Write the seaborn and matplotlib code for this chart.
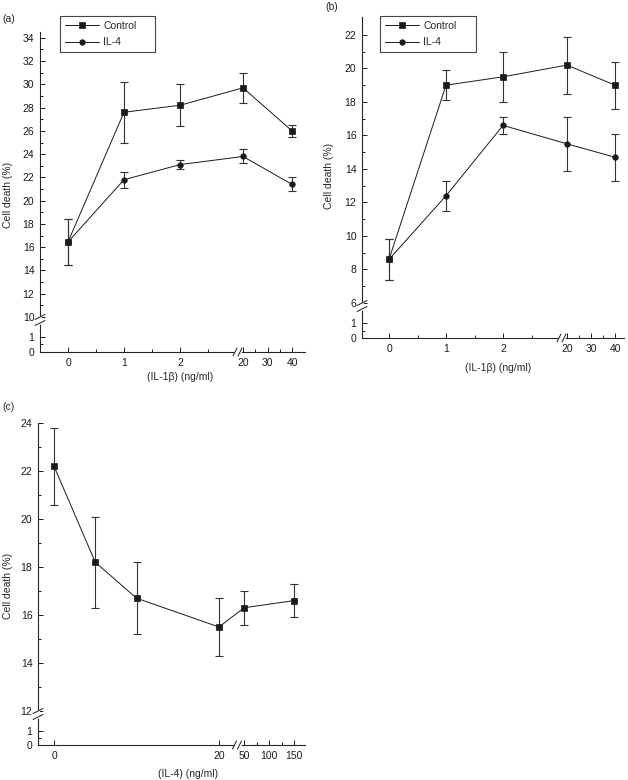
import matplotlib
matplotlib.use('Agg')
import matplotlib.pyplot as plt
import numpy as np
import seaborn as sns

# (a) cell death vs IL-1beta, with and without IL-4
dose_a = [0, 1, 2, 20, 40]
control_a = [16.45, 27.6, 28.2, 29.7, 26.0]
control_a_err = [2.0, 2.6, 1.8, 1.3, 0.5]
il4_a = [16.45, 21.8, 23.1, 23.8, 21.4]
il4_a_err = [2.0, 0.7, 0.4, 0.6, 0.6]

# (b) second cell type, same design
dose_b = [0, 1, 2, 20, 40]
control_b = [8.6, 19.0, 19.5, 20.2, 19.0]
control_b_err = [1.2, 0.9, 1.5, 1.7, 1.4]
il4_b = [8.6, 12.4, 16.6, 15.5, 14.7]
il4_b_err = [1.2, 0.9, 0.5, 1.6, 1.4]

# (c) cell death vs IL-4 dose
dose_c = [0, 5, 10, 20, 50, 150]
death_c = [22.2, 18.2, 16.7, 15.5, 16.3, 16.6]
death_c_err = [1.6, 1.9, 1.5, 1.2, 0.7, 0.7]

xticks_ab = [0, 1, 2, 20, 30, 40]
xminor_ab = [0.5, 1.5, 2.5, 25, 35]
xticks_c = [0, 20, 50, 100, 150]
xminor_c = [75, 125]
yticks_a = [0, 1] + list(range(10, 35, 2))
yticks_b = [0, 1] + list(range(6, 23, 2))
yticks_c = [0, 1] + list(range(12, 25, 2))

W, H = 628, 780
FS = 7.5

sns.set_theme(style='ticks')
plt.rcParams['font.family'] = ['Liberation Sans', 'DejaVu Sans']
plt.rcParams['axes.linewidth'] = 0.8


def pwl(src, dst):
    """Piecewise linear map src -> dst, extrapolated at both ends."""
    src = np.asarray(src, float)
    dst = np.asarray(dst, float)

    def f(v):
        v = np.asarray(v, float)
        out = np.interp(v, src, dst)
        lo = dst[0] + (v - src[0]) * (dst[1] - dst[0]) / (src[1] - src[0])
        hi = dst[-1] + (v - src[-1]) * (dst[-1] - dst[-2]) / (src[-1] - src[-2])
        return np.where(v < src[0], lo, np.where(v > src[-1], hi, out))
    return f


def px_axes(fig, left, top, right, bottom):
    return fig.add_axes([left / W, 1 - bottom / H, (right - left) / W, (bottom - top) / H])


def setup_axes(ax, xmap, ymap, xticks, xminor, yticks, yminor):
    # scaled coordinates are pixels from the axes origin, so the breaks are
    # just flat stretches of the mapping
    ax.set_xscale('function', functions=(pwl(*xmap), pwl(xmap[1], xmap[0])))
    ax.set_yscale('function', functions=(pwl(*ymap), pwl(ymap[1], ymap[0])))
    ax.set_xlim(xmap[0][0], xmap[0][-1])
    ax.set_ylim(ymap[0][0], ymap[0][-1])
    ax.set_xticks(xticks, [str(t) for t in xticks])
    ax.set_xticks(xminor, minor=True)
    ax.set_yticks(yticks, [str(t) for t in yticks])
    ax.set_yticks(yminor, minor=True)
    ax.tick_params(which='both', direction='in', width=0.7, colors='k',
                   labelsize=FS, pad=4)
    ax.tick_params(which='major', length=3.5)
    ax.tick_params(which='minor', length=2)
    sns.despine(ax=ax)

    # axis breaks: two slashes with a gap in the spine
    xw, yh = xmap[1][-1], ymap[1][-1]
    xs = pwl(*xmap)(xmap[0][1]) - 1
    ys = pwl(*ymap)(ymap[0][2])
    kw = dict(transform=ax.transAxes, clip_on=False)
    ax.plot([xs / xw, (xs + 5) / xw], [0, 0], color='white', lw=2, zorder=4, **kw)
    ax.plot([0, 0], [(ys - 6) / yh, ys / yh], color='white', lw=2, zorder=4, **kw)
    for p in (xs, xs + 5):
        ax.plot([(p - 2) / xw, (p + 2) / xw], [-4 / yh, 4 / yh],
                color='k', lw=0.7, zorder=5, **kw)
    for p in (ys, ys - 6):
        ax.plot([-5 / xw, 5 / xw], [(p - 2.5) / yh, (p + 2.5) / yh],
                color='k', lw=0.7, zorder=5, **kw)


def series(ax, x, y, err, marker, label=None):
    ax.errorbar(x, y, yerr=err, fmt='none', ecolor='#333333', elinewidth=0.8,
                capsize=2.8, capthick=0.8, zorder=2)
    sns.lineplot(x=x, y=y, ax=ax, color='k', linewidth=0.7, marker=marker,
                 markersize=4, markeredgecolor='k', markeredgewidth=0.5,
                 errorbar=None, label=label, legend=False, zorder=3)


def legend(ax, anchor):
    handles, labels = ax.get_legend_handles_labels()
    order = [labels.index('Control'), labels.index('IL-4')]
    leg = ax.legend([handles[i] for i in order], [labels[i] for i in order],
                    loc='upper left', bbox_to_anchor=anchor, mode='expand',
                    borderaxespad=0, fontsize=FS, frameon=True, fancybox=False,
                    framealpha=1, edgecolor='#444444', handlelength=3.3,
                    handletextpad=0.4, borderpad=0.45, labelspacing=0.65)
    leg.get_frame().set_linewidth(0.8)


fig = plt.figure(figsize=(W / 100, H / 100), dpi=100)

# ---- (a)
ax = px_axes(fig, 40, 32, 305, 352)
setup_axes(ax, ([-0.5, 3.0, 20, 45.3], [0, 196, 203, 265]),
           ([0, 1, 10, 34.5], [0, 15, 35, 320]),
           xticks_ab, xminor_ab, yticks_a, [0.5] + list(range(11, 34, 2)))
series(ax, dose_a, il4_a, il4_a_err, 'o', 'IL-4')
series(ax, dose_a, control_a, control_a_err, 's', 'Control')
legend(ax, (20 / 265, 0, 95 / 265, 336 / 320))
ax.set_xlabel('(IL-1β) (ng/ml)', fontsize=FS)
ax.set_ylabel('Cell death (%)', fontsize=FS)
ax.xaxis.set_label_coords(140 / 265, -20 / 320)
ax.yaxis.set_label_coords(-27 / 265, 0.49)
fig.text(2 / W, 1 - 19 / H, '(a)', fontsize=FS, va='center')

# ---- (b)
ax = px_axes(fig, 362, 17, 624, 338)
setup_axes(ax, ([-0.474, 3.0, 20, 43.75], [0, 198, 205, 262]),
           ([0, 1, 6, 23.07], [0, 15, 35, 321]),
           xticks_ab, xminor_ab, yticks_b, [0.5] + list(range(7, 23, 2)))
series(ax, dose_b, il4_b, il4_b_err, 'o', 'IL-4')
series(ax, dose_b, control_b, control_b_err, 's', 'Control')
legend(ax, (18 / 262, 0, 96 / 262, 322 / 321))
ax.set_xlabel('(IL-1β) (ng/ml)', fontsize=FS)
ax.set_ylabel('Cell death (%)', fontsize=FS)
ax.xaxis.set_label_coords(136 / 262, -25 / 321)
ax.yaxis.set_label_coords(-28 / 262, 0.505)
fig.text(325 / W, 1 - 7 / H, '(b)', fontsize=FS, va='center')

# ---- (c)
ax = px_axes(fig, 38, 423, 305, 745)
setup_axes(ax, ([-1.94, 22, 50, 172], [0, 197.5, 206, 267]),
           ([0, 1, 12, 24], [0, 14, 34, 322]),
           xticks_c, xminor_c, yticks_c, [0.5] + list(range(13, 24, 2)))
series(ax, dose_c, death_c, death_c_err, 's')
ax.set_xlabel('(IL-4) (ng/ml)', fontsize=FS)
ax.set_ylabel('Cell death (%)', fontsize=FS)
ax.xaxis.set_label_coords(150 / 267, -24 / 322)
ax.yaxis.set_label_coords(-25 / 267, 0.494)
fig.text(2 / W, 1 - 407 / H, '(c)', fontsize=FS, va='center')

fig.savefig('out.png', dpi=100)
